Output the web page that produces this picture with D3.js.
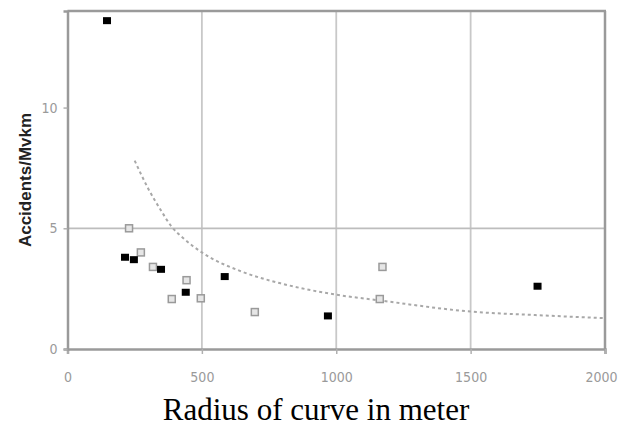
<!DOCTYPE html>
<html>
<head>
<meta charset="utf-8">
<script src="https://cdn.jsdelivr.net/npm/d3@7"></script>
<style>
  body { margin: 0; background: #fff; }
  svg { display: block; }
</style>
</head>
<body>
<div id="chart"></div>
<script>
// data
const filledRadius = [147, 214, 247, 348, 440, 585, 969, 1749];
const filledAcc    = [13.6, 3.8, 3.7, 3.3, 2.35, 3.0, 1.37, 2.6];

const openRadius = [229, 273, 318, 443, 388, 496, 697, 1172, 1162];
const openAcc    = [5.0, 4.0, 3.4, 2.85, 2.07, 2.1, 1.53, 3.4, 2.07];

// dotted trend line
const trendRadius = [250, 300, 350, 385, 430, 500, 650, 800, 1000, 1170, 1500, 1750, 2000];
const trendAcc    = [7.8, 6.65, 5.7, 5.1, 4.6, 4.0, 3.2, 2.7, 2.25, 2.0, 1.55, 1.4, 1.28];

const xTicks = [0, 500, 1000, 1500, 2000];
const yTicks = [0, 5, 10];

const width = 619, height = 436;
const margin = { top: 11, right: 14, bottom: 87, left: 67.5 };

const svg = d3.select("#chart").append("svg")
  .attr("width", width)
  .attr("height", height);

const xScale = d3.scaleLinear()
  .domain([0, 2000])
  .range([margin.left, width - margin.right]);

const yScale = d3.scaleLinear()
  .domain([0, 14])
  .range([height - margin.bottom, margin.top]);

// vertical grid
svg.append("g")
  .selectAll("line")
  .data([500, 1000, 1500])
  .join("line")
  .attr("x1", d => xScale(d))
  .attr("x2", d => xScale(d))
  .attr("y1", yScale(14))
  .attr("y2", yScale(0))
  .attr("stroke", "#c8c8c8")
  .attr("stroke-width", 1.8)

// horizontal grid (only at 5)
svg.append("line")
  .attr("x1", xScale(0))
  .attr("x2", xScale(2000))
  .attr("y1", yScale(5))
  .attr("y2", yScale(5))
  .attr("stroke", "#bdbdbd")
  .attr("stroke-width", 1.8)

// frame: top and right
svg.append("line")
  .attr("x1", xScale(0)).attr("x2", xScale(2000) + 1)
  .attr("y1", yScale(14)).attr("y2", yScale(14))
  .attr("stroke", "#9a9a9a").attr("stroke-width", 2.5)
svg.append("line")
  .attr("x1", xScale(2000)).attr("x2", xScale(2000))
  .attr("y1", yScale(14)).attr("y2", yScale(0))
  .attr("stroke", "#9a9a9a").attr("stroke-width", 2.5)

const tickFont = "'Liberation Sans Narrow', 'DejaVu Sans Condensed', sans-serif";

// axes
const xAxis = d3.axisBottom(xScale).tickValues(xTicks).tickFormat(d3.format("d")).tickSize(5).tickPadding(18);
const yAxis = d3.axisLeft(yScale).tickValues(yTicks).tickFormat(d3.format("d")).tickSize(4).tickPadding(6);

const xAxisGroup = svg.append("g")
  .attr("transform", `translate(0, ${yScale(0)})`)
  .call(xAxis)
xAxisGroup.select(".domain").attr("stroke", "#9a9a9a").attr("stroke-width", 2.5)
xAxisGroup.selectAll(".tick line").attr("stroke", "#b0b0b0").attr("stroke-width", 1.5)
xAxisGroup.selectAll(".tick text")
  .attr("fill", "#9a9a9a")
  .attr("font-family", tickFont)
  .attr("font-size", 14)
// last label sits at the right edge; keep it inside the page
xAxisGroup.selectAll(".tick text").filter(d => d === 2000)
  .attr("text-anchor", "end")
  .attr("dx", 12)

const yAxisGroup = svg.append("g")
  .attr("transform", `translate(${xScale(0)}, 0)`)
  .call(yAxis)
yAxisGroup.select(".domain").attr("stroke", "#9a9a9a").attr("stroke-width", 2.5)
yAxisGroup.selectAll(".tick line").attr("stroke", "#b0b0b0").attr("stroke-width", 1.5)
yAxisGroup.selectAll(".tick text")
  .attr("fill", "#9a9a9a")
  .attr("font-family", tickFont)
  .attr("font-size", 14)

// trend curve
const trend = trendRadius.map((r, i) => [r, trendAcc[i]]);
svg.append("path")
  .datum(trend)
  .attr("fill", "none")
  .attr("stroke", "#a8a8a8")
  .attr("stroke-width", 2)
  .attr("stroke-dasharray", "3,3")
  .attr("d", d3.line().x(d => xScale(d[0])).y(d => yScale(d[1])).curve(d3.curveMonotoneX))

// open squares
const openData = openRadius.map((r, i) => ({ r: r, a: openAcc[i] }));
svg.append("g")
  .selectAll("rect")
  .data(openData)
  .join("rect")
  .attr("x", d => xScale(d.r) - 3.5)
  .attr("y", d => yScale(d.a) - 3.5)
  .attr("width", 7)
  .attr("height", 7)
  .attr("fill", "#e6e6e6")
  .attr("stroke", "#9a9a9a")
  .attr("stroke-width", 1.5)

// filled squares
const filledData = filledRadius.map((r, i) => ({ r: r, a: filledAcc[i] }));
svg.append("g")
  .selectAll("rect")
  .data(filledData)
  .join("rect")
  .attr("x", d => xScale(d.r) - 4)
  .attr("y", d => yScale(d.a) - 3.5)
  .attr("width", 8)
  .attr("height", 7)
  .attr("fill", "#000")

// axis titles
svg.append("text")
  .attr("transform", `translate(31, ${yScale(7)}) rotate(-90)`)
  .attr("text-anchor", "middle")
  .attr("font-family", "'Liberation Sans Narrow', 'Liberation Sans', Arial, sans-serif")
  .attr("font-weight", "bold")
  .attr("font-size", 17)
  .attr("fill", "#222")
  .text("Accidents/Mvkm")

svg.append("text")
  .attr("x", 316)
  .attr("y", 420)
  .attr("text-anchor", "middle")
  .attr("font-family", "'Liberation Serif', 'Times New Roman', serif")
  .attr("font-size", 31)
  .attr("fill", "#000")
  .text("Radius of curve in meter")
</script>
</body>
</html>
